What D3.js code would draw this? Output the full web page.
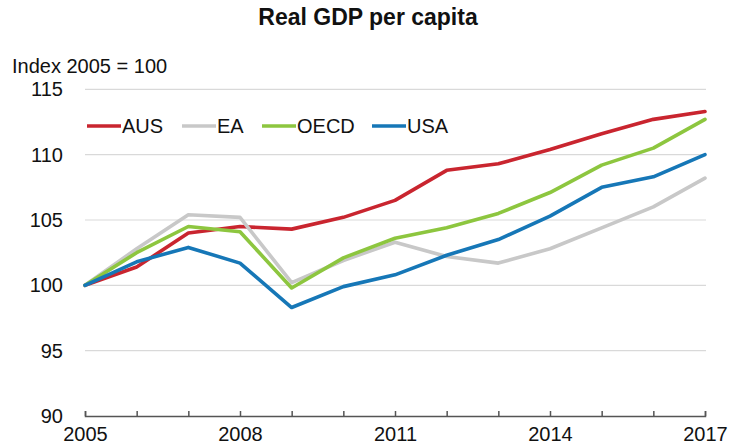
<!DOCTYPE html>
<html>
<head>
<meta charset="utf-8">
<script src="https://cdn.jsdelivr.net/npm/d3@7"></script>
<style>
  html, body { margin: 0; padding: 0; background: #fff; }
  svg { display: block; font-family: "Liberation Sans", Arial, sans-serif; }
</style>
</head>
<body>
<svg id="chart" width="729" height="448"></svg>
<script>
const years = [2005, 2006, 2007, 2008, 2009, 2010, 2011, 2012, 2013, 2014, 2015, 2016, 2017];
const xTickLabels = [2005, 2008, 2011, 2014, 2017];
const yTicks = [90, 95, 100, 105, 110, 115];
const seriesNames = ["AUS", "EA", "OECD", "USA"];
const seriesColors = ["#c9252f", "#c8c8c8", "#8dc63f", "#1677b7"];
const aus  = [100, 101.4, 104.0, 104.5, 104.3, 105.2, 106.5, 108.8, 109.3, 110.4, 111.6, 112.7, 113.3];
const ea   = [100, 102.8, 105.4, 105.2, 100.2, 101.9, 103.3, 102.2, 101.7, 102.8, 104.4, 106.0, 108.2];
const oecd = [100, 102.5, 104.5, 104.1, 99.8, 102.1, 103.6, 104.4, 105.5, 107.1, 109.2, 110.5, 112.7];
const usa  = [100, 101.8, 102.9, 101.7, 98.3, 99.9, 100.8, 102.3, 103.5, 105.3, 107.5, 108.3, 110.0];
const seriesValues = [aus, ea, oecd, usa];

(function () {
const svg = d3.select("#chart");
const mLeft = 85, mRight = 705, mTop = 89.3, mBottom = 416;

const x = d3.scaleLinear().domain([2005, 2017]).range([mLeft, mRight]);
const y = d3.scaleLinear().domain([90, 115]).range([mBottom, mTop]);

// Title
svg.append("text")
  .attr("x", 368).attr("y", 25)
  .attr("text-anchor", "middle")
  .attr("font-weight", "bold")
  .attr("font-size", 23)
  .attr("fill", "#111")
  .text("Real GDP per capita");

// Y label
svg.append("text")
  .attr("x", 12).attr("y", 73)
  .attr("font-size", 20)
  .attr("fill", "#111")
  .text("Index 2005 = 100");

// Gridlines
svg.append("g")
  .selectAll("line")
  .data(yTicks.filter(d => d > 90))
  .join("line")
  .attr("x1", mLeft).attr("x2", mRight + 1)
  .attr("y1", d => y(d)).attr("y2", d => y(d))
  .attr("stroke", "#d9d9d9").attr("stroke-width", 1.2);

// Y axis (labels only)
const yAxis = svg.append("g")
  .attr("transform", `translate(${mLeft},0)`)
  .call(d3.axisLeft(y).tickValues(yTicks).tickSize(0).tickPadding(22).tickFormat(d3.format("d")));
yAxis.select(".domain").remove();
yAxis.selectAll("text").attr("font-size", 20).attr("fill", "#111").attr("font-family", "Liberation Sans, Arial, sans-serif");

// X axis
const xAxis = svg.append("g")
  .attr("transform", `translate(0,${mBottom})`)
  .call(d3.axisTop(x).tickValues(years).tickSize(5).tickFormat(""));
xAxis.select(".domain").attr("stroke", "#555").attr("stroke-width", 1.5);
xAxis.selectAll(".tick line").attr("stroke", "#555").attr("stroke-width", 1.5);

const xLabels = svg.append("g")
  .attr("transform", `translate(0,${mBottom})`)
  .call(d3.axisBottom(x).tickValues(xTickLabels).tickSize(0).tickPadding(11).tickFormat(d3.format("d")));
xLabels.select(".domain").remove();
xLabels.selectAll("text").attr("font-size", 20).attr("fill", "#111").attr("font-family", "Liberation Sans, Arial, sans-serif");

// Lines
const line = d3.line().x((d, i) => x(years[i])).y(d => y(d));
svg.append("g")
  .selectAll("path")
  .data(seriesValues)
  .join("path")
  .attr("d", d => line(d))
  .attr("fill", "none")
  .attr("stroke", (d, i) => seriesColors[i])
  .attr("stroke-width", 3.6)
  .attr("stroke-linejoin", "round")
  .attr("stroke-linecap", "round");

// Legend
const legendX = [87, 182, 262, 372];
const legend = svg.append("g");
seriesNames.forEach((name, i) => {
  legend.append("line")
    .attr("x1", legendX[i]).attr("x2", legendX[i] + 34)
    .attr("y1", 126).attr("y2", 126)
    .attr("stroke", seriesColors[i]).attr("stroke-width", 3.6);
  legend.append("text")
    .attr("x", legendX[i] + 35).attr("y", 133)
    .attr("font-size", 20).attr("fill", "#111")
    .text(name);
});
})();
</script>
</body>
</html>
